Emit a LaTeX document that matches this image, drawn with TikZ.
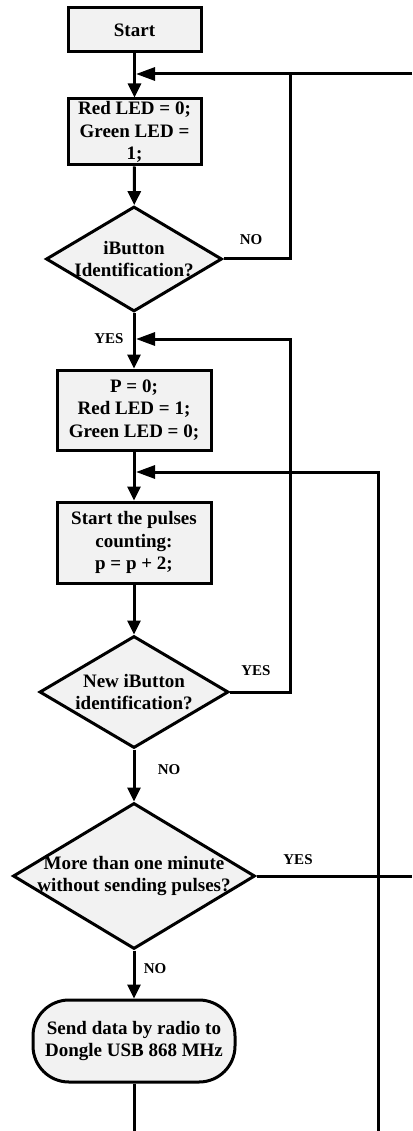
\documentclass[tikz,border=0pt]{standalone}
\usepackage{fontspec}
\setmainfont{Liberation Serif}
\usetikzlibrary{shapes.geometric,arrows.meta}
\definecolor{boxfill}{RGB}{242,242,242}
\begin{document}
\begin{tikzpicture}[x=1pt,y=1pt,
  every node/.style={font=\bfseries\fontsize{19}{22.5}\selectfont},
  stepbox/.style={draw,line width=3pt,fill=boxfill,rectangle,inner sep=0pt,align=center},
  decision/.style={draw,line width=3pt,fill=boxfill,diamond,inner sep=0pt},
  dtext/.style={align=center},
  terminal/.style={draw,line width=3pt,fill=boxfill,rectangle,rounded corners=36pt,inner sep=0pt,align=center},
  tag/.style={font=\bfseries\fontsize{15}{17}\selectfont},
  line/.style={line width=3pt},
  flow/.style={line width=3pt,-{Triangle[length=14pt,width=13pt]}},
  flowL/.style={line width=3pt,-{Triangle[length=19pt,width=13pt]}}]
\useasboundingbox (0,0) rectangle (412,-1131);

% process steps
\node[stepbox,minimum width=133pt,minimum height=44pt] (start) at (134.5,-30) {Start};
\node[stepbox,minimum width=133pt,minimum height=66pt] (init) at (134.5,-132) {Red LED = 0;\\Green LED =\\1;};
\node[decision,minimum width=176pt,minimum height=105pt,
      label={[dtext]center:iButton\\Identification?}] (d1) at (134,-259) {};
\node[stepbox,minimum width=154pt,minimum height=80pt] (reset) at (134,-410) {P = 0;\\Red LED = 1;\\Green LED = 0;};
\node[stepbox,minimum width=154pt,minimum height=81pt] (count) at (134,-542.5) {Start the pulses\\counting:\\p = p + 2;};
\node[decision,minimum width=189pt,minimum height=112pt,
      label={[dtext]center:New iButton\\identification?}] (d2) at (134,-692) {};
\node[decision,minimum width=242pt,minimum height=146pt,
      label={[dtext]center:More than one minute\\without sending pulses?}] (d3) at (134,-876) {};
\node[terminal,minimum width=202pt,minimum height=82pt] (send) at (134,-1041) {Send data by radio to\\Dongle USB 868 MHz};

% junctions and free ends
\coordinate (j1) at (136,-74);
\coordinate (j2) at (136,-339);
\coordinate (j3) at (136,-472);
\coordinate (k1) at (290,-74);
\coordinate (k2) at (290,-339);
\coordinate (e1) at (412,-74);
\coordinate (e3) at (412,-876);
\coordinate (b1) at (134,-1131);
\coordinate (b2) at (378,-1131);

% main flow
\draw[flow] (start) -- (init);
\draw[flow] (init) -- (d1);
\draw[flow] (d1) -- (reset);
\draw[flow] (reset) -- (count);
\draw[flow] (count) -- (d2);
\draw[flow] (d2) -- (d3);
\draw[flow] (d3) -- (send);
\draw[line] (send) -- (b1);

% return loops
\draw[line] (d1.east) -| (k1);
\draw[flowL] (e1) -- (j1);
\draw[flowL] (d2.east) -| (k2) -- (j2);
\draw[flowL] (b2) |- (j3);
\draw[line] (d3.east) -- (e3);

% branch labels
\node[tag] (n1) at (251,-240) {NO};
\node[tag,anchor=east] (y1) at (127,-339) {YES};
\node[tag] (y2) at (256,-671) {YES};
\node[tag] (n2) at (169,-770) {NO};
\node[tag] (y3) at (298,-860) {YES};
\node[tag] (n3) at (155,-969) {NO};
\end{tikzpicture}
\end{document}
